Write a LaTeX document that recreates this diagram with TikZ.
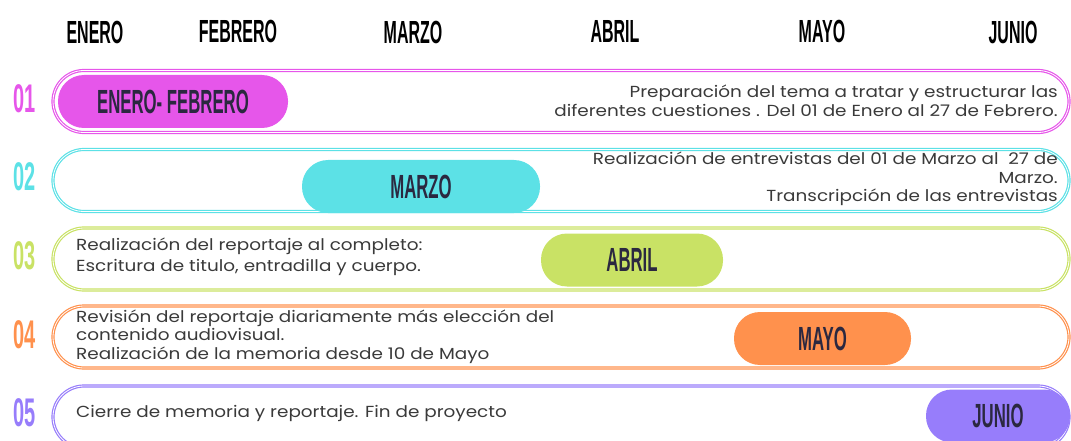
\documentclass[tikz,border=0pt]{standalone}
\usepackage{fontspec}
\setmainfont[FakeStretch=1.15]{Poppins}
\newfontfamily\bebas[FakeStretch=0.5]{Liberation Sans}
\definecolor{cpink}{HTML}{E656EA}
\definecolor{ccyan}{HTML}{5CE1E6}
\definecolor{clime}{HTML}{C9E265}
\definecolor{corange}{HTML}{FF914D}
\definecolor{cpurple}{HTML}{977DFB}
\definecolor{darktxt}{HTML}{2B2840}
\definecolor{bodytxt}{HTML}{3A3A3A}
\tikzset{
  month/.style={font=\bebas\bfseries\fontsize{32}{33}\selectfont, text=black, inner sep=0pt},
  rownum/.style={font=\bebas\bfseries\fontsize{40}{41}\selectfont, inner sep=0pt},
  rowbox/.style={draw=#1, line width=1.2pt, double=white, double distance=0.8pt,
     rounded corners=31pt, minimum width=1016pt, minimum height=62pt, inner sep=0pt},
  pill/.style={fill=#1, rounded corners=26pt, minimum height=53pt, inner sep=0pt,
     font=\bebas\bfseries\fontsize{33.5}{34}\selectfont, text=darktxt},
  bodyR/.style={font=\fontsize{16}{18.5}\selectfont, text=bodytxt, align=right, inner sep=0pt, anchor=east},
  bodyL/.style={font=\fontsize{16}{18.5}\selectfont, text=bodytxt, align=left, inner sep=0pt, anchor=west},
}
\begin{document}
\begin{tikzpicture}[x=1pt,y=-1pt]
\useasboundingbox (0,0) rectangle (1071,441);
\clip (0,0) rectangle (1071,441);
% month headers
\node[month] (m1) at (95,32) {ENERO};
\node[month] (m2) at (238,31) {FEBRERO};
\node[month] (m3) at (413,32) {MARZO};
\node[month] (m4) at (615,31) {ABRIL};
\node[month] (m5) at (822,31) {MAYO};
\node[month] (m6) at (1013,32) {JUNIO};
% row numbers
\node[rownum, text=cpink] (n1) at (25,99) {01};
\node[rownum, text=ccyan] (n2) at (25,177) {02};
\node[rownum, text=clime] (n3) at (25,256) {03};
\node[rownum, text=corange] (n4) at (25,335) {04};
\node[rownum, text=cpurple] (n5) at (25,413) {05};
% row boxes
\node[rowbox=cpink] (b1) at (561,101.5) {};
\node[rowbox=ccyan] (b2) at (561,180.5) {};
\node[rowbox=clime] (b3) at (561,259) {};
\node[rowbox=corange] (b4) at (561,337) {};
\node[rowbox=cpurple] (b5) at (561,417) {};
% pills
\node[pill=cpink, minimum width=230pt] (p1) at (173,101.5) {ENERO- FEBRERO};
\node[pill=ccyan, minimum width=238pt] (p2) at (421,186.5) {MARZO};
\node[pill=clime, minimum width=182pt] (p3) at (632,260) {ABRIL};
\node[pill=corange, minimum width=177pt] (p4) at (822.5,338.5) {MAYO};
\node[pill=cpurple, minimum width=144pt] (p5) at (998,416) {JUNIO};
% texts
\node[bodyR] (t1) at (1058,101) {Preparación del tema a tratar y estructurar las\\diferentes cuestiones . Del 01 de Enero al 27 de Febrero.};
\node[bodyR] (t2) at (1058,179) {Realización de entrevistas del 01 de Marzo al \ 27 de\\Marzo.\\Transcripción de las entrevistas};
\node[bodyL, font=\fontsize{16}{21}\selectfont] (t3) at (76,257) {Realización del reportaje al completo:\\Escritura de titulo, entradilla y cuerpo.};
\node[bodyL] (t4) at (76,336.5) {Revisión del reportaje diariamente más elección del\\contenido audiovisual.\\Realización de la memoria desde 10 de Mayo};
\node[bodyL] (t5) at (76,413.5) {Cierre de memoria y reportaje. Fin de proyecto};
\end{tikzpicture}
\end{document}
